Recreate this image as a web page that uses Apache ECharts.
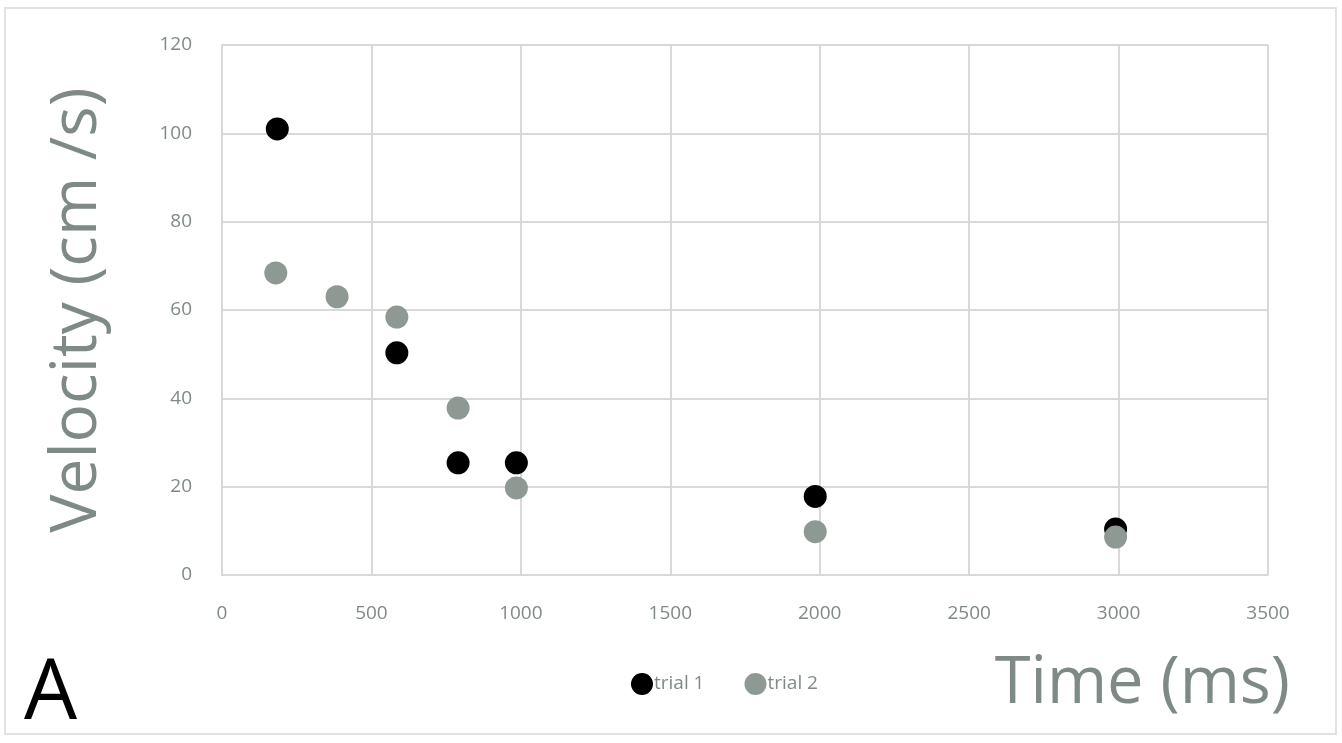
<!DOCTYPE html>
<html>
<head>
<meta charset="utf-8">
<script src="https://cdn.jsdelivr.net/npm/echarts@6/dist/echarts.min.js"></script>
<style>html,body{margin:0;padding:0;background:#fff;}#c{width:1342px;height:743px;}</style>
</head>
<body>
<div id="c"></div>
<script>
const seriesNames = ['trial 1', 'trial 2'];
const trial1Time = [185, 585, 790, 985, 1985, 2990];
const trial1Velocity = [101, 50.3, 25.4, 25.4, 17.8, 10.4];
const trial2Time = [180, 385, 585, 790, 985, 1985, 2990];
const trial2Velocity = [68.4, 63, 58.4, 37.8, 19.7, 9.8, 8.6];
const xTicks = [0, 500, 1000, 1500, 2000, 2500, 3000, 3500];
const yTicks = [0, 20, 40, 60, 80, 100, 120];

const pair = (xs, ys) => xs.map((x, i) => [x, ys[i]]);
const grey = '#7f8a87';
const gridColor = '#d9d9d9';

const chart = echarts.init(document.getElementById('c'));
chart.setOption({
  animation: false,
  backgroundColor: '#fff',
  textStyle: { fontFamily: 'Open Sans' },
  grid: { left: 222, top: 45, right: 74, bottom: 168 },
  graphic: [
    { type: 'rect', shape: { x: 5, y: 8, width: 1331, height: 726 },
      style: { fill: 'none', stroke: '#e2e2e2', lineWidth: 2 }, silent: true },
    { type: 'text', left: 24, top: 653,
      style: { text: 'A', fontSize: 84, fill: '#000', fontFamily: 'Open Sans' } }
  ],
  legend: {
    data: seriesNames, left: 626, top: 668, icon: 'circle',
    itemWidth: 22, itemHeight: 22, itemGap: 40,
    textStyle: { color: grey, fontSize: 19, padding: [0, 0, 0, -4] }
  },
  xAxis: {
    type: 'value', min: xTicks[0], max: xTicks[xTicks.length - 1], interval: 500,
    name: 'Time (ms)', nameLocation: 'end', nameGap: 22,
    nameTextStyle: { color: grey, fontSize: 65, align: 'right', verticalAlign: 'top', padding: [77, 0, 0, 0] },
    axisLine: { lineStyle: { color: gridColor, width: 2 } },
    axisTick: { show: false },
    axisLabel: { color: grey, fontSize: 19, margin: 29, formatter: v => String(v) },
    splitLine: { show: true, lineStyle: { color: gridColor, width: 2 } }
  },
  yAxis: {
    type: 'value', min: yTicks[0], max: yTicks[yTicks.length - 1], interval: 20,
    name: 'Velocity (cm /s)', nameLocation: 'middle', nameRotate: 90, nameGap: 112,
    nameTextStyle: { color: grey, fontSize: 64, padding: [0, 0, 0, 0] },
    axisLine: { show: true, lineStyle: { color: gridColor, width: 2 } },
    axisTick: { show: false },
    axisLabel: { color: grey, fontSize: 19, margin: 30 },
    splitLine: { show: true, lineStyle: { color: gridColor, width: 2 } }
  },
  series: [
    { name: seriesNames[0], type: 'scatter', symbolSize: 23, z: 3,
      itemStyle: { color: '#000', opacity: 1 }, data: pair(trial1Time, trial1Velocity) },
    { name: seriesNames[1], type: 'scatter', symbolSize: 23, z: 4,
      itemStyle: { color: '#8e9994', opacity: 1 }, data: pair(trial2Time, trial2Velocity) }
  ]
});
</script>
</body>
</html>
